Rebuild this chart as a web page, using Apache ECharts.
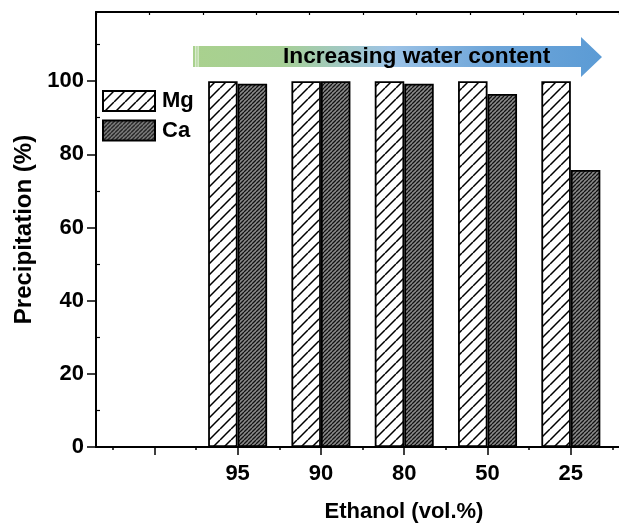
<!DOCTYPE html>
<html>
<head>
<meta charset="utf-8">
<script src="https://cdn.jsdelivr.net/npm/echarts@6/dist/echarts.min.js"></script>
<style>
  html, body { margin: 0; padding: 0; background: #fff; }
  #chart { width: 619px; height: 526px; }
</style>
</head>
<body>
<div id="chart"></div>
<script>
// ---- data ----
const categories = ['', '95', '90', '80', '50', '25'];
const mgValues = [null, 100, 100, 100, 100, 100];
const caValues = [null, 99.3, 100, 99.3, 96.5, 75.7];
const yTickValues = [0, 20, 40, 60, 80, 100];
const yMinorValues = [10, 30, 50, 70, 90, 110];
const xTickValues = [1, 2, 3, 4, 5, 6];
const xMinorValues = [0.5, 1.5, 2.5, 3.5, 4.5, 5.5, 6.5];
const xLabelValues = [2, 3, 4, 5, 6];
const seriesNames = ['Mg', 'Ca'];
const arrowText = 'Increasing water content';
const xTitle = 'Ethanol (vol.%)';
const yTitle = 'Precipitation (%)';

const FONT = '"Liberation Sans", Arial, sans-serif';

function makeHatch(size, bg, lineColor, lw) {
  const c = document.createElement('canvas');
  c.width = size; c.height = size;
  const ctx = c.getContext('2d');
  ctx.fillStyle = bg;
  ctx.fillRect(0, 0, size, size);
  ctx.strokeStyle = lineColor;
  ctx.lineWidth = lw;
  ctx.beginPath();
  for (const k of [-1, 0, 1]) {
    ctx.moveTo(k * size, size);
    ctx.lineTo(k * size + size, 0);
  }
  ctx.stroke();
  return c;
}
const mgPattern = { image: makeHatch(11, '#ffffff', '#000000', 1.5), repeat: 'repeat' };
const caPattern = { image: makeHatch(4, '#8a8a8a', '#111111', 1.3), repeat: 'repeat' };

const toPairs = vals => vals.map((v, i) => v == null ? null : [i + 1, v]).filter(p => p);

const xMin = 0.3, xMax = 6.578;
const axisLineStyle = { color: '#000', width: 2 };

const chart = echarts.init(document.getElementById('chart'), null, { renderer: 'canvas' });
chart.setOption({
  animation: false,
  backgroundColor: '#fff',
  grid: { left: 96, right: 0, top: 12, bottom: 79, containLabel: false },
  legend: {
    left: 102, top: 90, orient: 'vertical', padding: 0,
    itemWidth: 52, itemHeight: 20, itemGap: 7.6,
    icon: 'rect',
    textStyle: { fontFamily: FONT, fontWeight: 'bold', fontSize: 22, color: '#000', padding: [0, 0, 0, 2] },
    data: seriesNames
  },
  xAxis: [
    {
      type: 'value', min: xMin, max: xMax, position: 'bottom',
      axisLine: { show: true, lineStyle: axisLineStyle, onZero: false },
      axisTick: { show: true, customValues: xTickValues, length: 8, lineStyle: { color: '#000', width: 1.5 } },
      axisLabel: {
        show: true, customValues: xLabelValues, margin: 16,
        fontFamily: FONT, fontWeight: 'bold', fontSize: 22, color: '#000',
        formatter: v => categories[Math.round(v) - 1]
      },
      splitLine: { show: false }
    },
    {
      type: 'value', min: xMin, max: xMax, position: 'bottom',
      axisLine: { show: false, onZero: false },
      axisTick: { show: true, customValues: xMinorValues, length: 3, lineStyle: { color: '#000', width: 1.5 } },
      axisLabel: { show: false },
      splitLine: { show: false }
    },
    {
      type: 'value', min: 0, max: 523 / 53.4, interval: 1, position: 'top',
      axisLine: { show: true, lineStyle: axisLineStyle, onZero: false },
      axisTick: { show: true, inside: true, length: 3, lineStyle: { color: '#000', width: 1.2 } },
      axisLabel: { show: false },
      splitLine: { show: false }
    }
  ],
  yAxis: [
    {
      type: 'value', min: 0, max: 118.9, position: 'left',
      axisLine: { show: true, lineStyle: axisLineStyle, onZero: false },
      axisTick: { show: true, customValues: yTickValues, length: 9, lineStyle: { color: '#000', width: 1.5 } },
      axisLabel: {
        show: true, customValues: yTickValues, margin: 12,
        fontFamily: FONT, fontWeight: 'bold', fontSize: 22, color: '#000'
      },
      splitLine: { show: false },
      name: yTitle, nameLocation: 'middle', nameGap: 59, nameRotate: 90,
      nameTextStyle: { fontFamily: FONT, fontWeight: 'bold', fontSize: 24, color: '#000' }
    },
    {
      type: 'value', min: 0, max: 118.9, position: 'left',
      axisLine: { show: false, onZero: false },
      axisTick: { show: true, inside: true, customValues: yMinorValues, length: 4, lineStyle: { color: '#000', width: 1.2 } },
      axisLabel: { show: false },
      splitLine: { show: false }
    }
  ],
  series: [
    {
      name: seriesNames[0], type: 'bar', xAxisIndex: 0, yAxisIndex: 0,
      barWidth: 29.5, barGap: '0%',
      itemStyle: { color: mgPattern, borderColor: '#000', borderWidth: 1.8 },
      data: toPairs(mgValues)
    },
    {
      name: seriesNames[1], type: 'bar', xAxisIndex: 0, yAxisIndex: 0,
      barWidth: 29.5, barGap: '0%',
      itemStyle: { color: caPattern, borderColor: '#000', borderWidth: 1.8 },
      data: toPairs(caValues)
    }
  ],
  graphic: [
    {
      type: 'polygon', z: 10,
      shape: { points: [[193, 46], [581, 46], [581, 37], [602, 57], [581, 77], [581, 67], [193, 67]] },
      style: {
        fill: {
          type: 'linear', x: 0, y: 0, x2: 1, y2: 0,
          colorStops: [
            { offset: 0, color: '#a9d18e' },
            { offset: 0.22, color: '#a6cf95' },
            { offset: 0.48, color: '#9dc3e6' },
            { offset: 0.72, color: '#6fa6d9' },
            { offset: 1, color: '#5b9bd5' }
          ]
        }
      }
    },
    { type: 'rect', z: 11, shape: { x: 195.3, y: 46, width: 1, height: 21 }, style: { fill: '#ffffff', opacity: 0.8 } },
    { type: 'rect', z: 11, shape: { x: 197.6, y: 46, width: 1, height: 21 }, style: { fill: '#ffffff', opacity: 0.8 } },
    {
      type: 'text', z: 12,
      style: {
        text: arrowText, x: 283, y: 57, verticalAlign: 'middle', align: 'left',
        font: 'bold 22.7px ' + FONT, fill: '#000'
      }
    },
    {
      type: 'text', z: 12,
      style: {
        text: xTitle, x: 404, y: 512, verticalAlign: 'middle', align: 'center',
        font: 'bold 22px ' + FONT, fill: '#000'
      }
    }
  ]
});
</script>
</body>
</html>
